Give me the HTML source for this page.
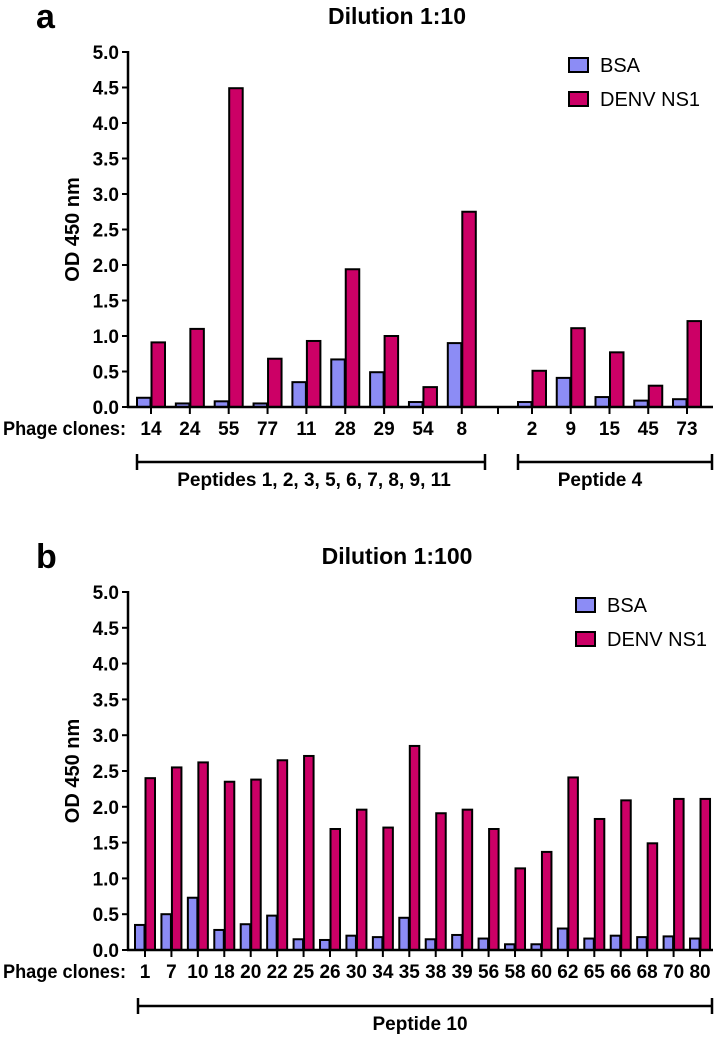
<!DOCTYPE html>
<html><head><meta charset="utf-8"><style>
html,body{margin:0;padding:0;background:#fff;}
svg{display:block;font-family:"Liberation Sans",Arial,sans-serif;}
.tk{font-weight:bold;font-size:19px;}
</style></head><body>
<svg id="s" width="715" height="1037" viewBox="0 0 715 1037"></svg>
<script>
const aCats=["14","24","55","77","11","28","29","54","8","2","9","15","45","73"];
const aBSA=[0.13,0.05,0.08,0.05,0.35,0.67,0.49,0.07,0.90,0.07,0.41,0.14,0.09,0.11];
const aNS1=[0.91,1.10,4.49,0.68,0.93,1.94,1.00,0.28,2.75,0.51,1.11,0.77,0.30,1.21];
const bCats=["1","7","10","18","20","22","25","26","30","34","35","38","39","56","58","60","62","65","66","68","70","80"];
const bBSA=[0.35,0.50,0.73,0.28,0.36,0.48,0.15,0.14,0.20,0.18,0.45,0.15,0.21,0.16,0.08,0.08,0.30,0.16,0.20,0.18,0.19,0.16];
const bNS1=[2.40,2.55,2.62,2.35,2.38,2.65,2.71,1.69,1.96,1.71,2.85,1.91,1.96,1.69,1.14,1.37,2.41,1.83,2.09,1.49,2.11,2.11];
const yTicks=["0.0","0.5","1.0","1.5","2.0","2.5","3.0","3.5","4.0","4.5","5.0"];
const NS="http://www.w3.org/2000/svg";
const svg=document.getElementById('s');
function mk(tag,attrs,parent,text){const e=document.createElementNS(NS,tag);for(const k in attrs)e.setAttribute(k,attrs[k]);if(text!==undefined)e.textContent=text;(parent||svg).appendChild(e);return e;}
function chart(o){
  const g=mk('g',{});
  
  
  const y=v=>o.y0-(v/5)*(o.y0-o.y5);
  let t=mk('text',{x:36,y:o.y5-24,'font-size':34,'font-weight':'bold'},g,o.letter);
  
  t=mk('text',{x:397,y:o.y5-28,'font-size':23,'font-weight':'bold','text-anchor':'middle'},g,o.title);
  
  t=mk('text',{x:0,y:0,'font-size':20,'font-weight':'bold','text-anchor':'middle',transform:`translate(79,${(o.y0+o.y5)/2}) rotate(-90)`},g,'OD 450 nm');
  
  o.cats.forEach((c,i)=>{
    const cx=o.x(i);
    let r=mk('rect',{x:cx-o.bw-0.5,y:y(o.bsa[i]),width:o.bw,height:o.y0-y(o.bsa[i]),fill:'#8c8cf5',stroke:'#000','stroke-width':2},g);
    
    r=mk('rect',{x:cx+0.5,y:y(o.ns1[i]),width:o.bw,height:o.y0-y(o.ns1[i]),fill:'#cc0066',stroke:'#000','stroke-width':2},g);
    
    mk('line',{x1:cx,x2:cx,y1:o.y0,y2:o.y0+7,stroke:'#000','stroke-width':2},g);
    t=mk('text',{x:cx,y:o.y0+28,'text-anchor':'middle',class:'tk'},g,c);
    
  });
  (o.extraTicks||[]).forEach(px=>mk('line',{x1:px,x2:px,y1:o.y0,y2:o.y0+7,stroke:'#000','stroke-width':2},g));
  let ax=mk('line',{x1:128,x2:128,y1:o.y5-1,y2:o.y0+1,stroke:'#000','stroke-width':2.5},g);
  
  ax=mk('line',{x1:127,x2:713,y1:o.y0,y2:o.y0,stroke:'#000','stroke-width':2.5},g);
  
  yTicks.forEach(s=>{
    const yy=y(parseFloat(s));
    mk('line',{x1:122,x2:128,y1:yy,y2:yy,stroke:'#000','stroke-width':2},g);
    t=mk('text',{x:119,y:yy+7,'text-anchor':'end',class:'tk','font-size':20},g,s);
    
  });
  t=mk('text',{x:3,y:o.y0+28,class:'tk',textLength:123,lengthAdjust:'spacingAndGlyphs'},g,'Phage clones:');
  
  o.brackets.forEach(b=>{
    const bg=mk('g',{},g);
    
    mk('line',{x1:b[0],x2:b[1],y1:o.by,y2:o.by,stroke:'#000','stroke-width':2.5},bg);
    mk('line',{x1:b[0],x2:b[0],y1:o.by-8,y2:o.by+8,stroke:'#000','stroke-width':2.5},bg);
    mk('line',{x1:b[1],x2:b[1],y1:o.by-8,y2:o.by+8,stroke:'#000','stroke-width':2.5},bg);
    mk('text',{x:b[2],y:o.by+24,'text-anchor':'middle',class:'tk'},bg,b[3]);
  });
  [['BSA','#8c8cf5',0],['DENV NS1','#cc0066',1]].forEach(l=>{
    const lg=mk('g',{},g);
    
    
    const ly=o.ly+l[2]*34;
    mk('rect',{x:o.lx,y:ly,width:19,height:14,fill:l[1],stroke:'#000','stroke-width':2},lg);
    mk('text',{x:o.lx+31,y:ly+14,'font-size':20},lg,l[0]);
  });
}
chart({name:'chart-dilution-1-10',letter:'a',title:'Dilution 1:10',y0:407,y5:52,cats:aCats,bsa:aBSA,ns1:aNS1,bw:13.5,
  x:i=>i<9?151+38.85*i:532+38.75*(i-9),extraTicks:[498],by:462,
  brackets:[[137,485,314,'Peptides 1, 2, 3, 5, 6, 7, 8, 9, 11'],[518,712,600,'Peptide 4']],lx:569,ly:58});
chart({name:'chart-dilution-1-100',letter:'b',title:'Dilution 1:100',y0:950,y5:592,cats:bCats,bsa:bBSA,ns1:bNS1,bw:9.5,
  x:i=>145+26.43*i,by:1006,brackets:[[138,712,420,'Peptide 10']],lx:576,ly:598});
</script>
</body></html>
